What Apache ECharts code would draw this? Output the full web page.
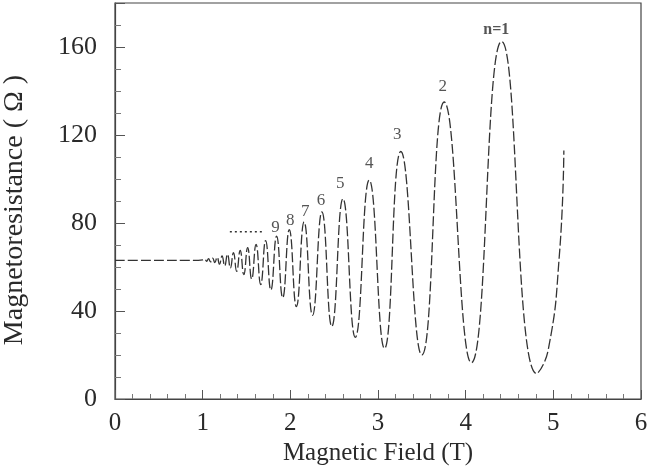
<!DOCTYPE html>
<html>
<head>
<meta charset="utf-8">
<script src="https://cdn.jsdelivr.net/npm/echarts@6/dist/echarts.min.js"></script>
<style>
  html, body { margin: 0; padding: 0; background: #fff; }
  #chart { width: 666px; height: 470px; }
</style>
</head>
<body>
<div id="chart"></div>
<script>
// field (T) and magnetoresistance (ohm)
var fieldT = [0, 0.95, 1.0, 1.024, 1.045, 1.067, 1.09, 1.114, 1.139, 1.165, 1.192, 1.221, 1.251,
  1.283, 1.316, 1.351, 1.388, 1.428, 1.469, 1.513, 1.559, 1.609, 1.662, 1.718, 1.778, 1.843,
  1.913, 1.988, 2.069, 2.157, 2.253, 2.36, 2.473, 2.6, 2.741, 2.9, 3.074, 3.26, 3.5, 3.755,
  4.065, 4.41, 4.81, 4.94, 5.07, 5.12];
var resistance = [63, 63, 63.2, 63.6, 62.6, 63.8, 62.3, 64.0, 62.0, 64.5, 61.3, 65.0, 60.5,
  65.8, 59.5, 66.5, 58.0, 67.5, 56.5, 68.8, 54.5, 70.3, 52.0, 72.0, 49.5, 74.0,
  46.0, 77.0, 42.0, 80.5, 38.0, 85.0, 33.0, 91.0, 28.0, 99.5, 23.0, 112.5, 20.0, 135.0,
  16.5, 162.5, 11.5, 22, 66, 113];

// Landau level index labels
var levelText = ["n=1", "2", "3", "4", "5", "6", "7", "8", "9"];
var levelX = [4.35, 3.74, 3.22, 2.9, 2.57, 2.35, 2.17, 2.0, 1.83];
var levelY = [168, 142, 120, 107, 98, 90, 85, 81, 78];

// dotted continuation marker
var dotX = [1.31, 1.69];
var dotY = [76, 76];

var curve = fieldT.map(function (x, i) { return [x, resistance[i]]; });
var dots = dotX.map(function (x, i) { return [x, dotY[i]]; });
var labels = levelText.map(function (t, i) {
  var item = { value: [levelX[i], levelY[i], t] };
  // n=1 is set in bold in the original
  if (i === 0) item.label = { fontWeight: "bold", fontSize: 16 };
  return item;
});

var serif = "Liberation Serif";
var chart = echarts.init(document.getElementById("chart"));
chart.setOption({
  animation: false,
  grid: {
    left: 115, right: 25, top: 3, bottom: 71,
    outerBoundsMode: "none",
    containLabel: false,
    show: true, borderColor: "#444", borderWidth: 1.2
  },
  xAxis: {
    type: "value",
    min: 0, max: 6, interval: 1,
    name: "Magnetic Field (T)",
    nameLocation: "middle",
    nameGap: 40,
    nameTextStyle: { fontFamily: serif, fontSize: 25, color: "#2a2a2a" },
    axisLine: { show: true, lineStyle: { color: "#444", width: 1.2 } },
    axisTick: { inside: true, length: 9, lineStyle: { color: "#555" } },
    minorTick: { show: true, splitNumber: 5, length: 5, lineStyle: { color: "#777" } },
    axisLabel: { fontFamily: serif, fontSize: 25, color: "#2a2a2a", margin: 12 },
    splitLine: { show: false }
  },
  yAxis: {
    type: "value",
    min: 0, max: 180, interval: 40,
    name: "Magnetoresistance ( Ω )",
    nameLocation: "middle",
    nameGap: 86,
    nameTextStyle: { fontFamily: serif, fontSize: 28, color: "#2a2a2a", padding: [0, 18, 0, 0] },
    axisLine: { show: true, lineStyle: { color: "#444", width: 1.2 } },
    axisTick: { inside: true, length: 10, lineStyle: { color: "#555" } },
    minorTick: { show: true, splitNumber: 4, length: 6, lineStyle: { color: "#777" } },
    axisLabel: {
      fontFamily: serif, fontSize: 26, color: "#2a2a2a", margin: 18,
      formatter: function (v) { return v > 160 ? "" : v; }
    },
    splitLine: { show: false }
  },
  series: [
    {
      type: "line",
      data: curve,
      smooth: 0.5,
      symbol: "none",
      lineStyle: { color: "#333", width: 1.3, type: [10, 3] }
    },
    {
      type: "line",
      data: dots,
      symbol: "none",
      lineStyle: { color: "#333", width: 1.5, type: [2, 3] }
    },
    {
      type: "scatter",
      data: labels,
      symbolSize: 0,
      label: {
        show: true,
        position: "inside",
        formatter: function (p) { return p.value[2]; },
        fontFamily: serif,
        fontSize: 17,
        color: "#2a2a2a"
      },
      labelLayout: { hideOverlap: false }
    }
  ]
});
</script>
</body>
</html>
